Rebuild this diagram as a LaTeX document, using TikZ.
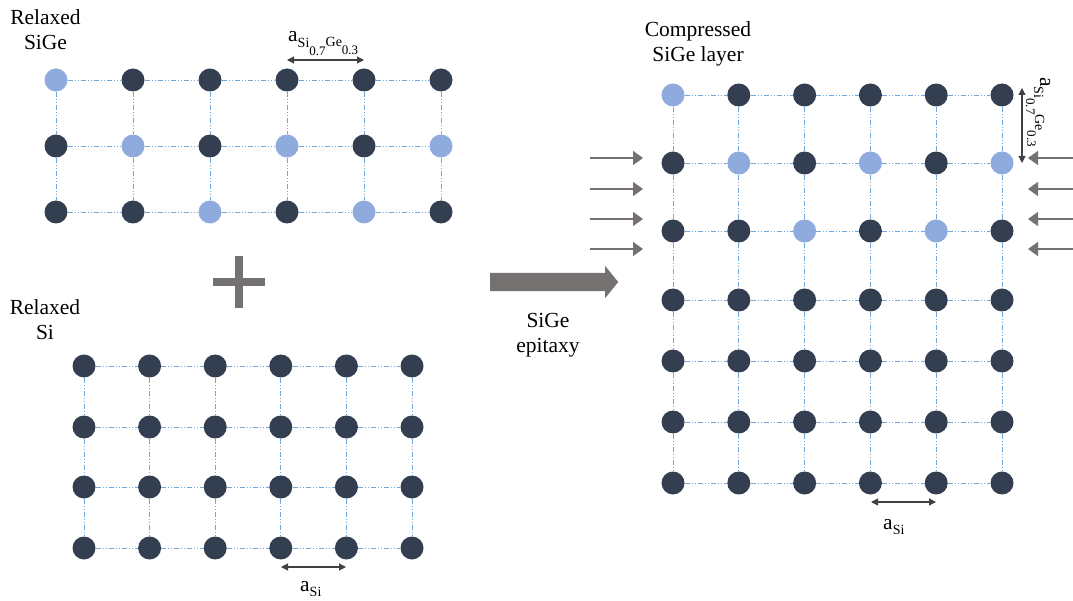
\documentclass[tikz,border=0pt]{standalone}
\usepackage{fontspec}
\setmainfont{Liberation Serif}
\usetikzlibrary{arrows.meta,shapes.arrows}
\definecolor{atomdark}{HTML}{333F50}
\definecolor{atomlight}{HTML}{8FAADC}
\definecolor{bondblue}{HTML}{6FA8DC}
\definecolor{arrowgray}{HTML}{767171}
\definecolor{dimgray}{HTML}{404040}
\newcommand{\aSiGe}{a\raisebox{-6pt}{\fontsize{14}{14}\selectfont Si}\raisebox{-14pt}{\fontsize{13}{13}\selectfont 0.7}\raisebox{-5pt}{\fontsize{14}{14}\selectfont Ge}\raisebox{-13pt}{\fontsize{13}{13}\selectfont 0.3}}
\newcommand{\aSi}{a\raisebox{-5pt}{\fontsize{14}{14}\selectfont Si}}
\begin{document}
\begin{tikzpicture}[x=1pt,y=-1pt,
  atom/.style={circle,fill=atomdark,minimum size=23pt,inner sep=0pt},
  atomL/.style={atom,fill=atomlight},
  bond/.style={draw=bondblue,line width=0.9pt,dash pattern=on 5pt off 2pt on 1pt off 2pt on 1pt off 2pt},
  lbl/.style={font=\fontsize{21.5}{25}\selectfont,align=center,inner sep=0pt},
  dimarrow/.style={draw=dimgray,line width=1.1pt,{Triangle[length=7pt,width=7pt]}-{Triangle[length=7pt,width=7pt]}},
  push/.style={draw=arrowgray,line width=1.5pt,-{Triangle[length=10pt,width=14pt]}}]
\useasboundingbox (0,0) rectangle (1073,601);

% ---- Lattice A: relaxed SiGe (top left)
\foreach \r/\y in {1/80,2/146,3/212}{
  \foreach \c in {1,...,6}{
    \pgfmathsetmacro\x{56+77*(\c-1)}
    \pgfmathtruncatemacro\isL{((\r==1)&&(\c==1))||((\r==2)&&(mod(\c,2)==0))||((\r==3)&&((\c==3)||(\c==5)))}
    \ifnum\isL=1 \def\st{atomL}\else\def\st{atom}\fi
    \node[\st] (A-\r-\c) at (\x,\y) {};
  }
}
\foreach \r in {1,2,3}{\foreach \c in {1,...,5}{
  \pgfmathtruncatemacro\cn{\c+1}
  \draw[bond] (A-\r-\c) -- (A-\r-\cn);}}
\foreach \r in {1,2}{\foreach \c in {1,...,6}{
  \pgfmathtruncatemacro\rn{\r+1}
  \draw[bond] (A-\r-\c) -- (A-\rn-\c);}}

% ---- Lattice B: relaxed Si (bottom left)
\foreach \r/\y in {1/366,2/427,3/487,4/548}{
  \foreach \c in {1,...,6}{
    \pgfmathsetmacro\x{84+65.6*(\c-1)}
    \node[atom] (B-\r-\c) at (\x,\y) {};
  }
}
\foreach \r in {1,...,4}{\foreach \c in {1,...,5}{
  \pgfmathtruncatemacro\cn{\c+1}
  \draw[bond] (B-\r-\c) -- (B-\r-\cn);}}
\foreach \r in {1,2,3}{\foreach \c in {1,...,6}{
  \pgfmathtruncatemacro\rn{\r+1}
  \draw[bond] (B-\r-\c) -- (B-\rn-\c);}}

% ---- Lattice C: compressed SiGe on Si (right)
\foreach \r/\y in {1/95,2/163,3/231,4/300,5/361,6/422,7/483}{
  \foreach \c in {1,...,6}{
    \pgfmathsetmacro\x{673+65.8*(\c-1)}
    \pgfmathtruncatemacro\isL{((\r==1)&&(\c==1))||((\r==2)&&(mod(\c,2)==0))||((\r==3)&&((\c==3)||(\c==5)))}
    \ifnum\isL=1 \def\st{atomL}\else\def\st{atom}\fi
    \node[\st] (C-\r-\c) at (\x,\y) {};
  }
}
\foreach \r in {1,...,7}{\foreach \c in {1,...,5}{
  \pgfmathtruncatemacro\cn{\c+1}
  \draw[bond] (C-\r-\c) -- (C-\r-\cn);}}
\foreach \r in {1,...,6}{\foreach \c in {1,...,6}{
  \pgfmathtruncatemacro\rn{\r+1}
  \draw[bond] (C-\r-\c) -- (C-\rn-\c);}}

% ---- Titles
\node[lbl] (tA) at (45.5,29.5) {Relaxed\\SiGe};
\node[lbl] (tB) at (45,320) {Relaxed\\Si};
\node[lbl] (tC) at (698,44) {Compressed\\SiGe layer};
\node[lbl] (tE) at (548,335.5) {SiGe\\epitaxy};

% ---- plus sign
\fill[arrowgray] (213,278) rectangle (265,286);
\fill[arrowgray] (235,256) rectangle (243,308);

% ---- big process arrow
\node[single arrow,fill=arrowgray,minimum height=128pt,
      inner xsep=0pt,inner ysep=9pt,
      single arrow head extend=7pt,single arrow tip angle=102,
      anchor=tail] (epi) at (490,282) {};

% ---- dimension arrows
\coordinate (dA1) at (287,60); \coordinate (dA2) at (364,60);
\draw[dimarrow] (dA1) -- (dA2);
\node[lbl,anchor=base west] (lA) at (288,42) {\aSiGe};

\coordinate (dB1) at (281,567); \coordinate (dB2) at (346,567);
\draw[dimarrow] (dB1) -- (dB2);
\node[lbl,anchor=base west] (lB) at (300,591) {\aSi};

\coordinate (dC1) at (871,502); \coordinate (dC2) at (936,502);
\draw[dimarrow] (dC1) -- (dC2);
\node[lbl,anchor=base west] (lC) at (883,529) {\aSi};

\coordinate (dV1) at (1022,88); \coordinate (dV2) at (1022,163);
\draw[dimarrow] (dV1) -- (dV2);
\node[lbl,anchor=base west,rotate=-90] (lV) at (1040,77) {\aSiGe};

% ---- compression arrows
\foreach \i/\y in {1/158,2/189,3/219,4/249}{
  \coordinate (pl\i) at (590,\y); \coordinate (ql\i) at (643,\y);
  \draw[push] (pl\i) -- (ql\i);
  \coordinate (pr\i) at (1073,\y); \coordinate (qr\i) at (1028,\y);
  \draw[push] (pr\i) -- (qr\i);
}
\end{tikzpicture}
\end{document}
